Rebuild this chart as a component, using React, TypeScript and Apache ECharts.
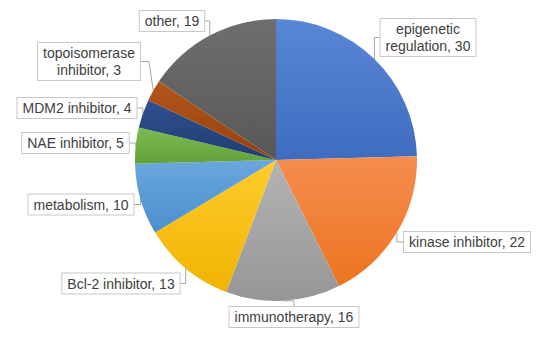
import React, { useEffect, useRef } from "react";
import * as echarts from "echarts";

const categories = [
  "epigenetic regulation",
  "kinase inhibitor",
  "immunotherapy",
  "Bcl-2 inhibitor",
  "metabolism",
  "NAE inhibitor",
  "MDM2 inhibitor",
  "topoisomerase inhibitor",
  "other",
];
const values = [30, 22, 16, 13, 10, 5, 4, 3, 19];
const colors = [
  ["#5a86d6", "#3f6cbf"],
  ["#f58d4f", "#ec741e"],
  ["#b4b4b4", "#969696"],
  ["#ffcb2e", "#f0b400"],
  ["#6aa7de", "#4a8fce"],
  ["#7cbb52", "#62a23a"],
  ["#2f5190", "#203d70"],
  ["#b4561c", "#93400c"],
  ["#6e6e6e", "#585858"],
];
// label box centres (px)
const labelPos: [number, number][] = [
  [428, 37.5],
  [467, 242],
  [294, 317],
  [121, 283.5],
  [81, 204.5],
  [75.5, 143],
  [77, 108],
  [89, 61.5],
  [172, 21],
];

export default function App() {
  const ref = useRef<HTMLDivElement>(null);
  useEffect(() => {
    if (!ref.current) return;
    const chart = echarts.init(ref.current, undefined, { renderer: "svg" });
    chart.setOption({
      animation: false,
      backgroundColor: "#ffffff",
      series: [
        {
          type: "pie",
          center: [276, 160],
          radius: 141,
          startAngle: 90,
          clockwise: true,
          avoidLabelOverlap: false,
          data: categories.map((name, i) => ({
            name,
            value: values[i],
            itemStyle: {
              color: new echarts.graphic.LinearGradient(0, 0, 0, 1, [
                { offset: 0, color: colors[i][0] },
                { offset: 1, color: colors[i][1] },
              ]),
            },
          })),
          itemStyle: { borderWidth: 0 },
          label: {
            show: true,
            position: "outside",
            formatter: (p: any) => {
              const n: string = p.name;
              const t = n.length > 18 ? n.replace(" ", "\n") : n;
              return t + ", " + p.value;
            },
            fontFamily: "Liberation Sans, Arial, sans-serif",
            fontSize: 14,
            lineHeight: 17,
            color: "#404040",
            backgroundColor: "#ffffff",
            borderColor: "#c8c8c8",
            borderWidth: 1,
            padding: [2, 5, 1, 5],
            align: "center",
          },
          labelLine: {
            show: true,
            length: 8,
            length2: 8,
            lineStyle: { color: "#a6a6a6", width: 1 },
          },
          labelLayout: (params: any) => {
            const [cx, cy] = labelPos[params.dataIndex];
            return {
              x: cx,
              y: cy,
              align: "center",
              verticalAlign: "middle",
            };
          },
        },
      ],
    });
    return () => chart.dispose();
  }, []);
  return (
    <div
      ref={ref}
      style={{ position: "fixed", left: 0, top: 0, width: 550, height: 337 }}
    />
  );
}
